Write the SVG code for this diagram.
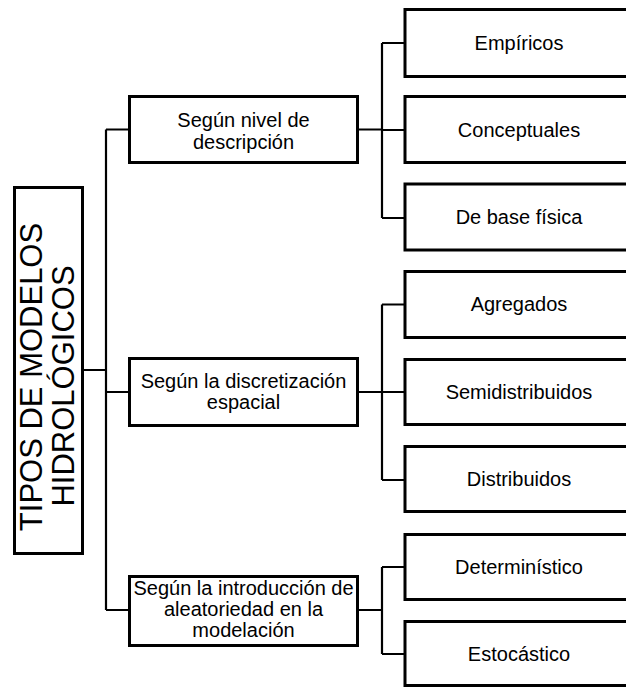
<svg xmlns="http://www.w3.org/2000/svg" width="626" height="690" viewBox="0 0 626 690">
<style>
.box{fill:#fff;stroke:#000;stroke-width:3}
.ln{fill:none;stroke:#000;stroke-width:2.2}
text{font-family:"Liberation Sans",Arial,sans-serif;font-size:20px;fill:#000;text-anchor:middle}
.root{font-size:31px}
</style>
<rect width="626" height="690" fill="#fff"/>
<g id="connectors">
<path class="ln" d="M84 370H106M106 129.5V610M106 129.5H128M106 392H128M106 610H128"/>
<path class="ln" d="M359 129.5H382M382 43V218M382 43H404M382 130H404M382 218H404"/>
<path class="ln" d="M359 392H382M382 304.5V480M382 304.5H404M382 392H404M382 480H404"/>
<path class="ln" d="M359 610H382M382 567V654M382 567H404M382 654H404"/>
</g>
<g id="root">
<rect class="box" x="14.5" y="187.5" width="68" height="366"/>
<text class="root" transform="translate(42,377) rotate(-90)">TIPOS DE MODELOS</text>
<text class="root" transform="translate(74,386) rotate(-90)">HIDROLÓGICOS</text>
</g>
<g id="m1">
<rect class="box" x="129.5" y="96.5" width="228" height="66"/>
<text x="243.5" y="126.5">Según nivel de</text>
<text x="243.5" y="148.5">descripción</text>
</g>
<g id="m2">
<rect class="box" x="129.5" y="358.5" width="228" height="67"/>
<text x="243.5" y="387.5">Según la discretización</text>
<text x="243.5" y="409">espacial</text>
</g>
<g id="m3">
<rect class="box" x="129.5" y="576.5" width="228" height="69"/>
<text x="243.5" y="595">Según la introducción de</text>
<text x="243.5" y="616">aleatoriedad en la</text>
<text x="243.5" y="637">modelación</text>
</g>
<g id="l1"><rect class="box" x="405" y="9.5" width="230" height="67"/><text x="519" y="50">Empíricos</text></g>
<g id="l2"><rect class="box" x="405" y="96.5" width="230" height="66"/><text x="519" y="136.5">Conceptuales</text></g>
<g id="l3"><rect class="box" x="405" y="184" width="230" height="66"/><text x="519" y="223.5">De base física</text></g>
<g id="l4"><rect class="box" x="405" y="271.5" width="230" height="66"/><text x="519" y="311">Agregados</text></g>
<g id="l5"><rect class="box" x="405" y="359.5" width="230" height="65"/><text x="519" y="398.5">Semidistribuidos</text></g>
<g id="l6"><rect class="box" x="405" y="446.5" width="230" height="65"/><text x="519" y="486">Distribuidos</text></g>
<g id="l7"><rect class="box" x="405" y="534.5" width="230" height="65"/><text x="519" y="573.5">Determinístico</text></g>
<g id="l8"><rect class="box" x="405" y="621.5" width="230" height="64"/><text x="519" y="660.5">Estocástico</text></g>
</svg>
